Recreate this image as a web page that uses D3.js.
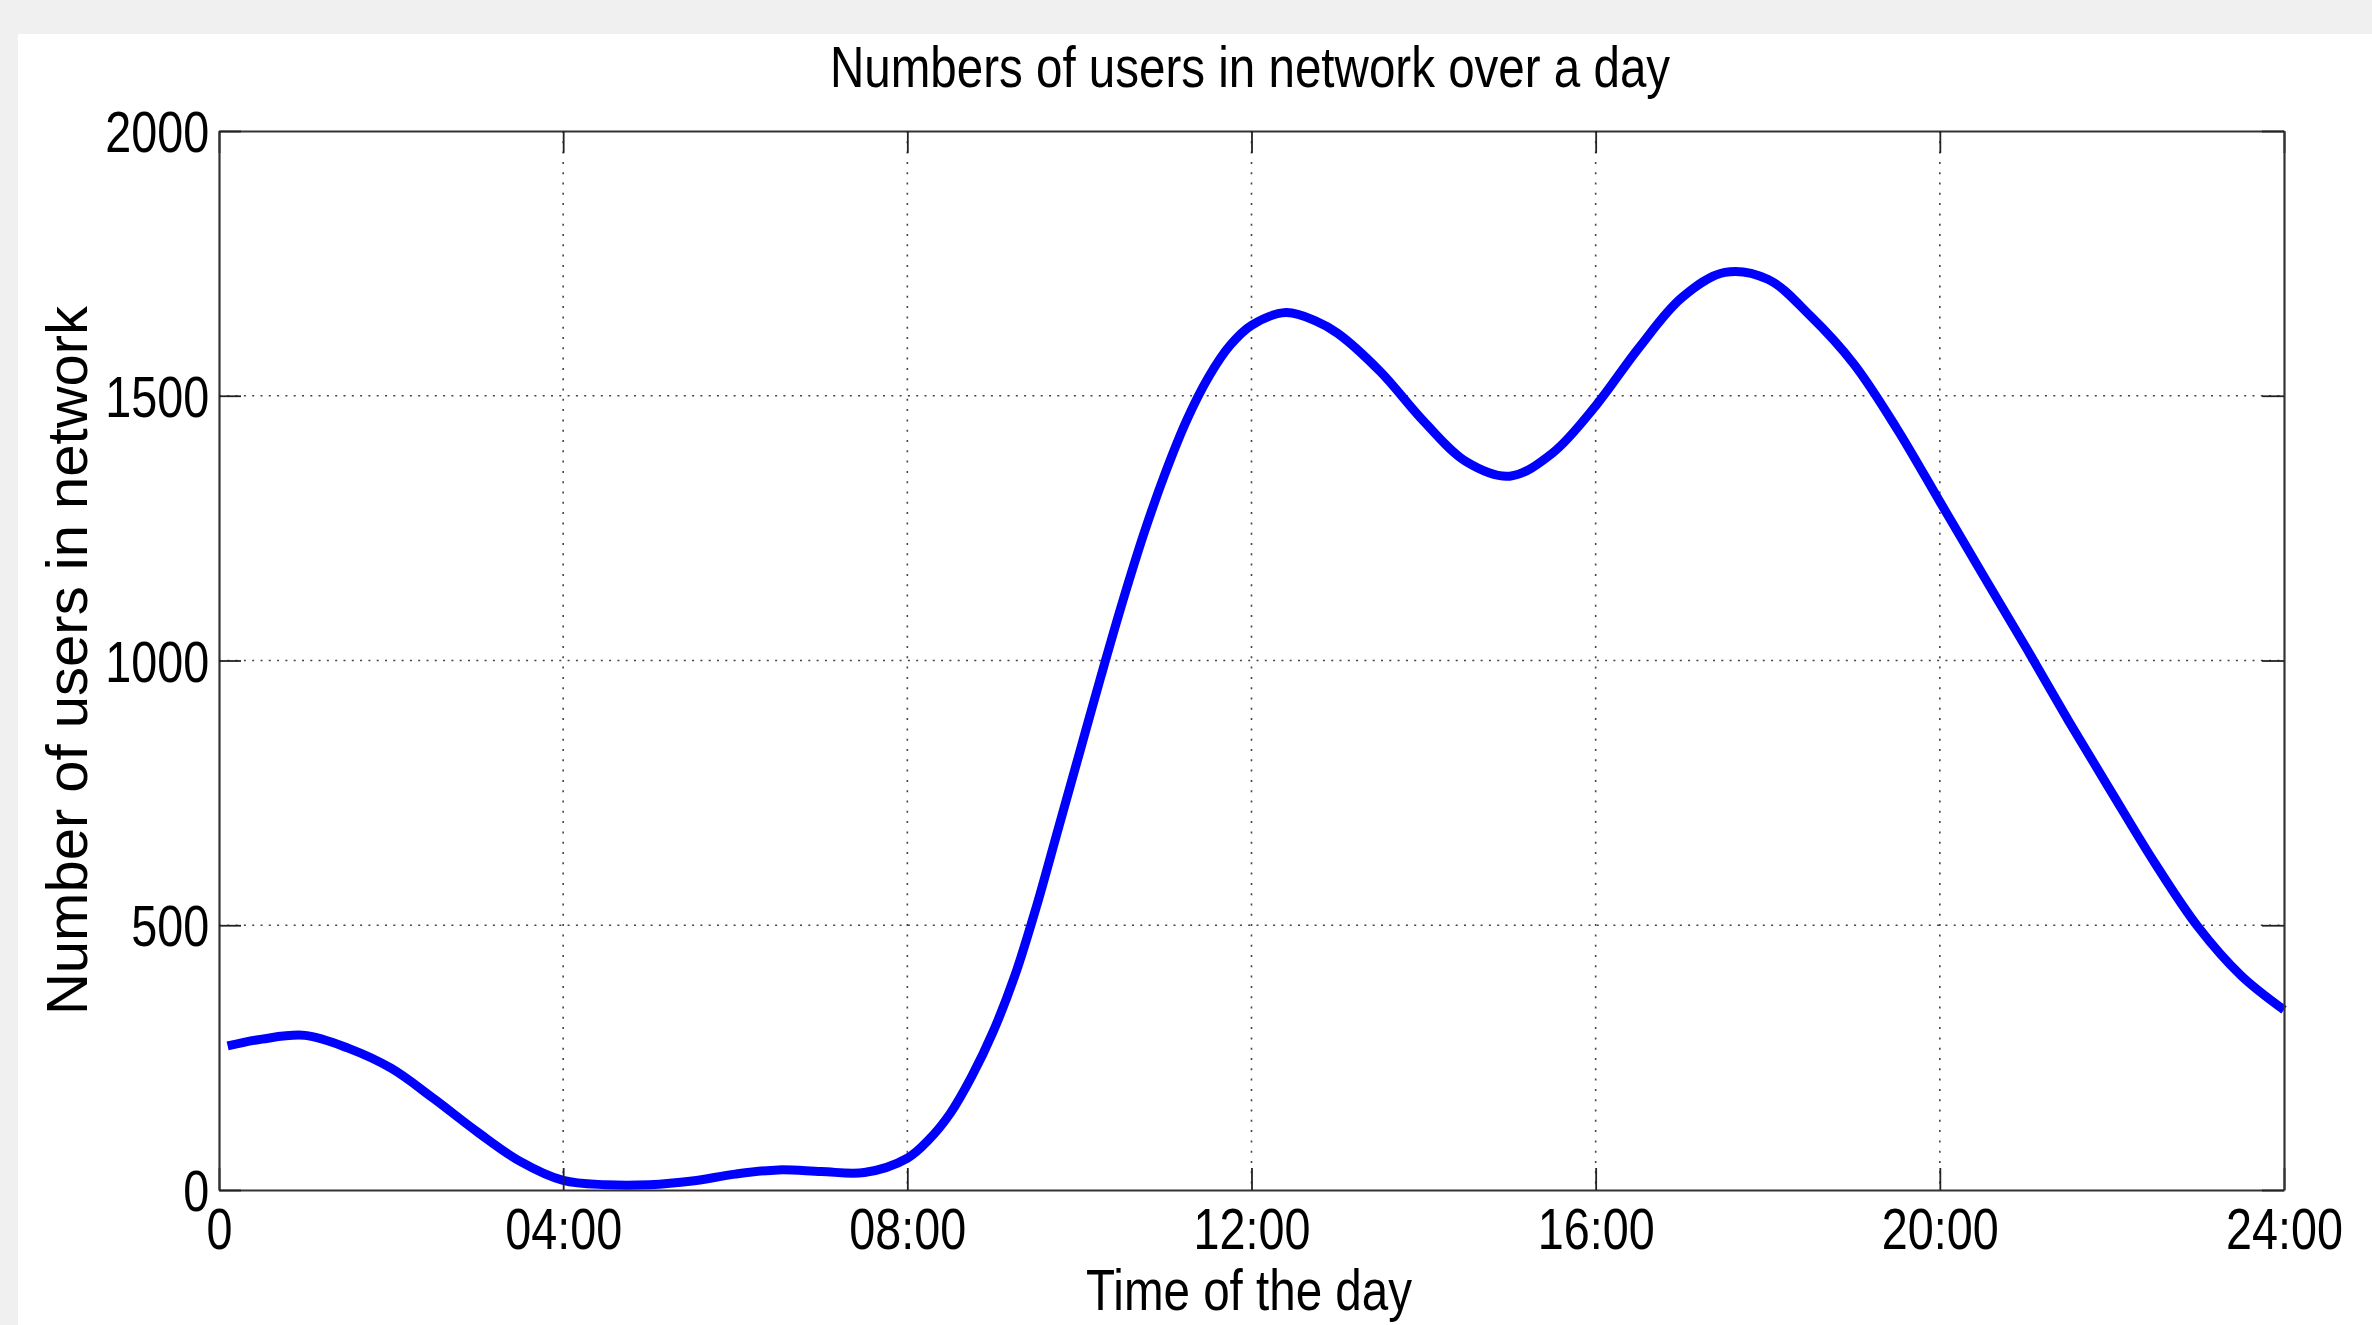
<!DOCTYPE html>
<html>
<head>
<meta charset="utf-8">
<script src="https://cdn.jsdelivr.net/npm/d3@7"></script>
<style>
    html, body { margin: 0; padding: 0; background: #eff0ef; }
    svg { display: block; }
</style>
</head>
<body>
<script>
// time of day (hours) and number of users
const hours = [0.1, 0.5, 1, 1.5, 2, 2.5, 3, 3.5, 4, 4.5, 5, 5.5, 6, 6.5, 7, 7.5,
    8, 8.25, 8.5, 8.75, 9, 9.25, 9.5, 9.75, 10, 10.25, 10.5, 10.75, 11, 11.25, 11.5, 11.75,
    12, 12.4, 12.75, 13, 13.5, 14, 14.5, 15, 15.5, 16, 16.5, 17, 17.5, 18,
    18.5, 19, 19.5, 20, 20.5, 21, 21.5, 22, 22.5, 23, 23.5, 24];
const users = [272, 285, 292, 268, 230, 172, 110, 54, 18, 10, 10, 17, 30, 38, 35, 33,
    60, 95, 145, 215, 300, 405, 535, 680, 825, 970, 1110, 1240, 1355, 1455, 1535, 1595,
    1633, 1657, 1641, 1618, 1545, 1452, 1375, 1348, 1392, 1481, 1590, 1685, 1733, 1720,
    1650, 1560, 1438, 1300, 1162, 1025, 885, 750, 617, 497, 405, 340];

const xTickValues = [0, 4, 8, 12, 16, 20, 24];
const xTickLabels = ["0", "04:00", "08:00", "12:00", "16:00", "20:00", "24:00"];
const yTickValues = [0, 500, 1000, 1500, 2000];

const title = "Numbers of users in network over a day";
const xTitle = "Time of the day";
const yTitle = "Number of users in network";

const width = 2372, height = 1325;
const margin = {top: 131, right: 88, bottom: 135, left: 219};
const font = "'Liberation Sans', Arial, sans-serif";
const narrow = "scale(0.82,1)";
const tickLen = 22;

const data = hours.map((h, i) => ({h: h, v: users[i]}));

const svg = d3.select("body").append("svg")
    .attr("width", width)
    .attr("height", height);

// white figure panel on the grey window
svg.append("rect")
    .attr("x", 18).attr("y", 34)
    .attr("width", width - 18).attr("height", height - 34)
    .attr("fill", "#ffffff");

const x = d3.scaleLinear().domain([0, 24]).range([margin.left, width - margin.right]);
const y = d3.scaleLinear().domain([0, 2000]).range([height - margin.bottom, margin.top]);

// dotted grid
svg.append("g")
    .selectAll("line")
    .data(xTickValues.slice(1, -1))
    .join("line")
    .attr("x1", d => x(d)).attr("x2", d => x(d))
    .attr("y1", y(2000)).attr("y2", y(0))
    .attr("stroke", "#444")
    .attr("stroke-width", 1.6)
    .attr("stroke-dasharray", "2,8.3");

svg.append("g")
    .selectAll("line")
    .data(yTickValues.slice(1, -1))
    .join("line")
    .attr("x1", x(0)).attr("x2", x(24))
    .attr("y1", d => y(d)).attr("y2", d => y(d))
    .attr("stroke", "#444")
    .attr("stroke-width", 1.6)
    .attr("stroke-dasharray", "2,6.3");

// the curve
const line = d3.line()
    .x(d => x(d.h))
    .y(d => y(d.v))
    .curve(d3.curveCatmullRom.alpha(0.5));

svg.append("path")
    .datum(data)
    .attr("d", line)
    .attr("fill", "none")
    .attr("stroke", "#0000ff")
    .attr("stroke-width", 9)
    .attr("stroke-linejoin", "round");

// axes, ticks pointing inward
function styleAxis(g) {
    g.select(".domain").attr("stroke", "#333").attr("stroke-width", 2.2);
    g.selectAll(".tick line").attr("stroke", "#222").attr("stroke-width", 1.8);
    g.selectAll("text")
        .attr("fill", "#000")
        .style("font-family", font)
        .style("font-size", "57px")
        .attr("transform", narrow);
}

svg.append("g")
    .attr("transform", `translate(0,${y(0)})`)
    .call(d3.axisBottom(x).tickValues(xTickValues)
        .tickFormat((d, i) => xTickLabels[i])
        .tickSizeInner(-tickLen).tickSizeOuter(0).tickPadding(19))
    .call(styleAxis);

svg.append("g")
    .attr("transform", `translate(0,${y(2000)})`)
    .call(d3.axisTop(x).tickValues(xTickValues).tickFormat("")
        .tickSizeInner(-tickLen).tickSizeOuter(0))
    .call(styleAxis);

svg.append("g")
    .attr("transform", `translate(${x(0)},0)`)
    .call(d3.axisLeft(y).tickValues(yTickValues).tickFormat(d3.format("d"))
        .tickSizeInner(-tickLen).tickSizeOuter(0).tickPadding(12))
    .call(styleAxis)
    .call(g => g.selectAll("text").attr("dy", "0.36em"));

svg.append("g")
    .attr("transform", `translate(${x(24)},0)`)
    .call(d3.axisRight(y).tickValues(yTickValues).tickFormat("")
        .tickSizeInner(-tickLen).tickSizeOuter(0))
    .call(styleAxis);

// titles
svg.append("g")
    .attr("transform", `translate(1250,87) ${narrow}`)
    .append("text")
    .attr("text-anchor", "middle")
    .style("font-family", font)
    .style("font-size", "58px")
    .text(title);

svg.append("g")
    .attr("transform", `translate(1249,1310) ${narrow}`)
    .append("text")
    .attr("text-anchor", "middle")
    .style("font-family", font)
    .style("font-size", "58px")
    .text(xTitle);

svg.append("text")
    .attr("transform", `translate(87,${(y(0) + y(2000)) / 2}) rotate(-90)`)
    .attr("text-anchor", "middle")
    .style("font-family", font)
    .style("font-size", "58px")
    .text(yTitle);
</script>
</body>
</html>
